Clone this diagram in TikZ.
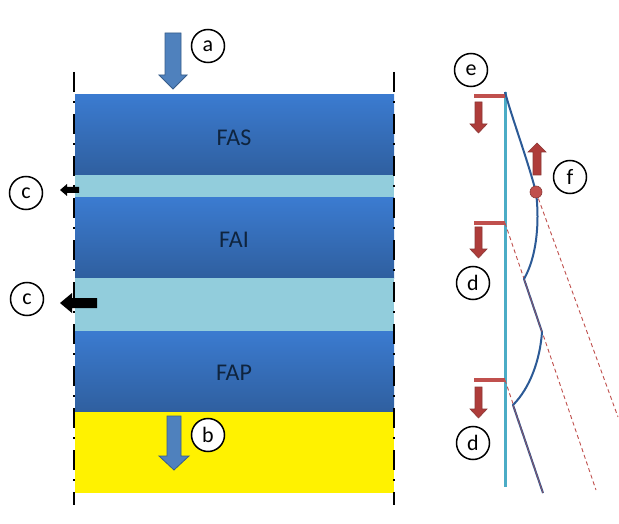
\documentclass[tikz,border=0pt]{standalone}
\usepackage{fontspec}
\setmainfont{Carlito}
\begin{document}
\begin{tikzpicture}[x=1pt,y=-1pt,
  lbl/.style={circle,draw=black,line width=1.5pt,fill=white,minimum size=33pt,inner sep=0pt,font=\fontsize{22}{24}\selectfont},
  layertxt/.style={font=\fontsize{24}{26}\selectfont,text=navytxt},
  bluearrow/.style={fill=arrowblue,draw=arrowblueedge,line width=0.8pt},
  redarrow/.style={fill=arrowred,draw=arrowrededge,line width=0.6pt},
  redbar/.style={draw=barred,line width=4pt},
  reddash/.style={draw=barred,line width=0.9pt,dash pattern=on 4pt off 3pt},
  curveline/.style={draw=curveblue,line width=2pt},
  edgeline/.style={draw=black,line width=2pt,dash pattern=on 20pt off 9pt on 2pt off 11pt}]
\definecolor{navytxt}{HTML}{0F243E}
\definecolor{bandtop}{HTML}{3B7BD0}
\definecolor{bandbot}{HTML}{2F5F9F}
\definecolor{lightband}{HTML}{92CDDC}
\definecolor{arrowblue}{HTML}{4F81BD}
\definecolor{arrowblueedge}{HTML}{385D8A}
\definecolor{arrowred}{HTML}{AE3C3A}
\definecolor{arrowrededge}{HTML}{8C3836}
\definecolor{barred}{HTML}{C0504D}
\definecolor{curveblue}{HTML}{2C5A96}
\definecolor{cyanline}{HTML}{4BACC6}
\useasboundingbox (0,0) rectangle (619,524);
\fill[white] (0,0) rectangle (619,524);
% layers
\shade[top color=bandtop,bottom color=bandbot] (75,95) rectangle (394,175);
\fill[lightband] (75,175) rectangle (394,198);
\shade[top color=bandtop,bottom color=bandbot] (75,198) rectangle (394,278);
\fill[lightband] (75,278) rectangle (394,331);
\shade[top color=bandtop,bottom color=bandbot] (75,331) rectangle (394,412);
\fill[yellow] (75,412) rectangle (394,493);
\node[layertxt] (fas) at (234,138) {FAS};
\node[layertxt] (fai) at (234,240) {FAI};
\node[layertxt] (fap) at (234,373) {FAP};
% dash-dot boundaries
\coordinate (lt) at (74,72); \coordinate (lb) at (74,505);
\coordinate (rt) at (394,72); \coordinate (rb) at (394,505);
\draw[edgeline] (lt) -- (lb);
\draw[edgeline] (rt) -- (rb);
% arrow a
\draw[bluearrow] (165,33) -- (181,33) -- (181,75) -- (187,75) -- (173,89) -- (159,75) -- (165,75) -- cycle;
\node[lbl] (a) at (208,46) {a};
% arrow b
\draw[bluearrow] (167,416) -- (181,416) -- (181,456) -- (189,456) -- (174,470) -- (159,456) -- (167,456) -- cycle;
\node[lbl] (b) at (208,435) {b};
% arrows c
\fill[black] (79,187) -- (67,187) -- (67,184) -- (60,190) -- (67,196) -- (67,193) -- (79,193) -- cycle;
\node[lbl] (c1) at (26,193) {c};
\fill[black] (97,298) -- (72,298) -- (72,293) -- (60,303) -- (72,313) -- (72,308) -- (97,308) -- cycle;
\node[lbl] (c2) at (27,299) {c};
% right part
\coordinate (vt) at (505,92); \coordinate (vb) at (505,487);
\draw[cyanline,line width=3pt] (vt) -- (vb);
\coordinate (b1) at (474,96); \coordinate (b1e) at (505,96);
\coordinate (b2) at (474,223); \coordinate (b2e) at (505,223);
\coordinate (b3) at (474,380); \coordinate (b3e) at (505,380);
\draw[redbar] (b1) -- (b1e);
\draw[redbar] (b2) -- (b2e);
\draw[redbar] (b3) -- (b3e);
% red dashed lines
\coordinate (dot) at (536,192);
\coordinate (d1e) at (618,417);
\coordinate (d2e) at (596,490);
\coordinate (d3e) at (543,493);
\draw[reddash] (dot) -- (d1e);
\draw[reddash] (b2e) -- (d2e);
\draw[reddash] (b3e) -- (d3e);
% curve
\coordinate (p1) at (524,279);
\coordinate (p2) at (542,332);
\coordinate (p3) at (513,405);
\draw[curveline,line join=round] (vt) .. controls (512,118) and (526,155) .. (dot)
  .. controls (540,225) and (536,258) .. (p1) -- (p2)
  .. controls (540,360) and (530,388) .. (p3) -- (d3e);
\draw[barred,line width=0.9pt,opacity=0.6] (p1) -- (p2);
\draw[barred,line width=0.9pt,opacity=0.6] (p3) -- (d3e);
\node[circle,fill=barred,draw=arrowrededge,line width=0.6pt,minimum size=12pt,inner sep=0pt] (dotn) at (dot) {};
% red arrows
\draw[redarrow] (475,102) -- (482,102) -- (482,124) -- (487,124) -- (478.5,133) -- (470,124) -- (475,124) -- cycle;
\draw[redarrow] (475,227) -- (482,227) -- (482,249) -- (487,249) -- (478.5,258) -- (470,249) -- (475,249) -- cycle;
\draw[redarrow] (475,387) -- (482,387) -- (482,409) -- (487,409) -- (478.5,418) -- (470,409) -- (475,409) -- cycle;
\draw[redarrow] (533,175) -- (541,175) -- (541,152) -- (546,152) -- (537,143) -- (528,152) -- (533,152) -- cycle;
\node[lbl] (e) at (471,70) {e};
\node[lbl] (d1) at (473,283) {d};
\node[lbl] (d2) at (473,443) {d};
\node[lbl] (f) at (570,177) {f};
\end{tikzpicture}
\end{document}
